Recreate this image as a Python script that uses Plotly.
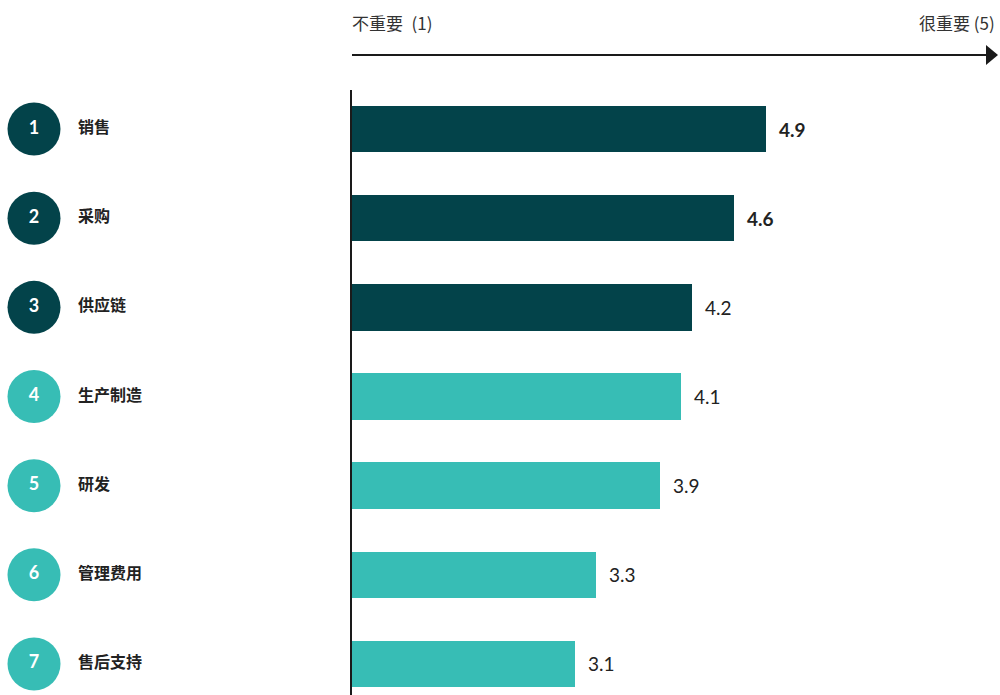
import plotly.graph_objects as go

# Ranking of business functions by importance (scale 1-5)
ranks = [1, 2, 3, 4, 5, 6, 7]
functions = ["销售", "采购", "供应链", "生产制造", "研发", "管理费用", "售后支持"]
scores = [4.9, 4.6, 4.2, 4.1, 3.9, 3.3, 3.1]
highlight = [True, True, False, False, False, False, False]   # bold value labels
top_group = [True, True, True, False, False, False, False]    # dark colour group

scale_low = "不重要 (1)"
scale_high = "很重要 (5)"

DARK = "#03434A"
TEAL = "#37BDB5"
TEXT = "#222222"
FONT = "Lato, 'Noto Sans CJK SC', sans-serif"
CJK = "'Noto Sans CJK SC', Lato, sans-serif"

W, H = 1000, 695
TOP = 90
PLOT_LEFT = 352

colors = [DARK if g else TEAL for g in top_group]

fig = go.Figure()

# horizontal bars starting from the scale minimum of 1
fig.add_trace(go.Bar(
    x=[s - 1 for s in scores], y=functions, orientation="h", base=1,
    marker=dict(color=colors, line=dict(width=0)),
    width=0.52,
    hoverinfo="skip", showlegend=False,
))

# rank circles and function names in the left-hand panel
fig.add_trace(go.Scatter(
    x=[34] * len(functions), y=functions, xaxis="x2",
    mode="markers+text",
    marker=dict(size=53, color=colors, line=dict(width=0)),
    text=[str(r) for r in ranks], textposition="middle center",
    textfont=dict(family=FONT, size=18, color="white", weight="bold"),
    hoverinfo="skip", showlegend=False, cliponaxis=False,
))
fig.add_trace(go.Scatter(
    x=[78] * len(functions), y=functions, xaxis="x2",
    mode="text",
    text=[f"<b>{f}</b>" for f in functions], textposition="middle right",
    textfont=dict(family=CJK, size=16, color=TEXT),
    hoverinfo="skip", showlegend=False, cliponaxis=False,
))

# value labels just past the end of each bar
for f, s, h in zip(functions, scores, highlight):
    fig.add_annotation(
        x=s, y=f, xref="x", yref="y",
        text=f"<b>{s:.1f}</b>" if h else f"{s:.1f}",
        showarrow=False, xanchor="left", xshift=11,
        font=dict(family=FONT, size=19, color=TEXT),
    )

# scale arrow above the plot
def py(pixel_y):
    return 1 - (pixel_y - TOP) / (H - TOP)

arrow_y = py(55)
fig.add_shape(type="line", xref="paper", yref="paper",
              x0=PLOT_LEFT / W, x1=0.989, y0=arrow_y, y1=arrow_y,
              line=dict(color="#1a1a1a", width=2))
fig.add_shape(type="path", xref="paper", yref="paper",
              path=f"M 0.986,{py(45)} L 0.998,{arrow_y} L 0.986,{py(65)} Z",
              fillcolor="#1a1a1a", line=dict(width=0))

fig.add_annotation(x=PLOT_LEFT / W, y=py(22), xref="paper", yref="paper",
                   text=scale_low.replace(" ", "\u2002"), showarrow=False,
                   xanchor="left", yanchor="middle", xshift=-2,
                   font=dict(family=CJK, size=17, color="#333333"))
fig.add_annotation(x=0.997, y=py(22), xref="paper", yref="paper",
                   text=scale_high, showarrow=False, xanchor="right", yanchor="middle",
                   font=dict(family=CJK, size=17, color="#333333"))

n = len(functions)
fig.update_layout(
    width=W, height=H,
    margin=dict(l=0, r=0, t=TOP, b=0),
    plot_bgcolor="white", paper_bgcolor="white",
    bargap=0,
    xaxis=dict(domain=[PLOT_LEFT / W, 1], range=[1, 1 + (W - PLOT_LEFT) / 106.2],
               visible=False, fixedrange=True),
    xaxis2=dict(domain=[0, PLOT_LEFT / W], range=[0, PLOT_LEFT],
                visible=False, anchor="y", fixedrange=True),
    yaxis=dict(type="category", categoryorder="array", categoryarray=functions,
               range=[n - 1 + (H - 664) / 89, -(129 - TOP) / 89],
               showticklabels=False, showgrid=False, zeroline=False,
               showline=True, linecolor="#1a1a1a", linewidth=1.5,
               ticks="", fixedrange=True),
)

fig.write_html("out.html")
